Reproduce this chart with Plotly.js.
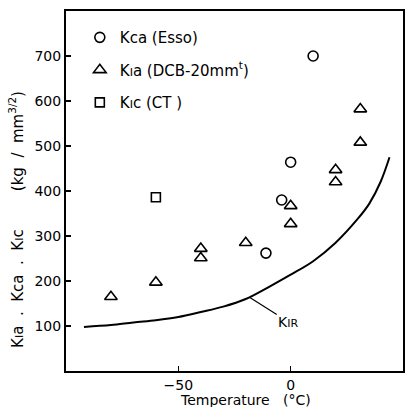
<!DOCTYPE html>
<html>
<head>
<meta charset="utf-8">
<script src="https://cdn.plot.ly/plotly-3.0.1.min.js"></script>
<style>html,body{margin:0;padding:0;background:#fff;}#chart{width:410px;height:408px;}</style>
</head>
<body>
<div id="chart"></div>
<script>
// Kca (Esso)
const essoT = [10, 0, -4, -11];
const essoK = [700, 464, 380, 262];
// KIa (DCB-20mm t)
const dcbT = [-80, -60, -40, -40, -20, 0, 0, 20, 20, 31, 31];
const dcbK = [165, 197, 272, 251, 285, 367, 327, 447, 420, 582, 508];
// KIc (CT)
const ctT = [-60];
const ctK = [386];
// KIR curve
const kirT = [-92, -80, -70, -60, -50, -40, -30, -20, -10, 0, 10, 20, 30, 35, 40, 44];
const kirK = [98, 102, 108, 113, 120, 131, 143, 160, 186, 214, 244, 285, 339, 372, 420, 475];

const xTicks = [-50, 0, 50];
const xTickText = ['\u221250', '0', '50'];
const yTicks = [100, 200, 300, 400, 500, 600, 700];

const FONT = 'DejaVu Sans';
const sm = (s, px) => "<span style='font-size:" + px + "px'>" + s + "</span>";

const traces = [
  {x: essoT, y: essoK, mode: 'markers', type: 'scatter', name: 'Kca (Esso)', legendgroup: 'a',
   marker: {symbol: 'circle-open', size: 10, color: '#000', line: {width: 1.6, color: '#000'}}},
  {x: dcbT, y: dcbK, mode: 'markers', type: 'scatter', name: 'K' + sm('I', 11) + 'a (DCB-20mm<sup>t</sup>)', legendgroup: 'b',
   marker: {symbol: 'triangle-up-open', size: 11, color: '#000', line: {width: 1.6, color: '#000'}}},
  {x: ctT, y: ctK, mode: 'markers', type: 'scatter', name: 'K' + sm('I', 11) + 'c (CT )', legendgroup: 'c',
   marker: {symbol: 'square-open', size: 9, color: '#000', line: {width: 1.6, color: '#000'}}},
  {x: kirT, y: kirK, mode: 'lines', type: 'scatter', name: 'KIR', showlegend: false,
   line: {color: '#000', width: 2, shape: 'spline', smoothing: 1}}
];

const layout = {
  width: 410, height: 408,
  margin: {l: 66, r: 7, t: 11, b: 37},
  paper_bgcolor: '#fff', plot_bgcolor: '#fff',
  font: {family: FONT, size: 13, color: '#000'},
  showlegend: true,
  legend: {x: 0.041, y: 0.972, xanchor: 'left', yanchor: 'top', bgcolor: 'rgba(0,0,0,0)',
           font: {family: FONT, size: 15, color: '#000'}, tracegroupgap: 10},
  xaxis: {range: [-100, 50], tickvals: xTicks, ticktext: xTickText,
          showline: true, mirror: true, linecolor: '#000', linewidth: 2,
          ticks: 'inside', ticklen: 5, tickcolor: '#000', tickwidth: 1.2,
          showgrid: false, zeroline: false,
          tickfont: {family: FONT, size: 14, color: '#000'}},
  yaxis: {range: [0, 800], tickvals: yTicks,
          showline: true, mirror: true, linecolor: '#000', linewidth: 2,
          ticks: 'inside', ticklen: 5, tickcolor: '#000', tickwidth: 1.2,
          showgrid: false, zeroline: false,
          tickfont: {family: FONT, size: 14, color: '#000'}},
  annotations: [
    {x: -18, y: 163, xref: 'x', yref: 'y', text: 'K' + sm('IR', 11), showarrow: true,
     arrowhead: 0, arrowwidth: 1.2, arrowcolor: '#000', ax: 38, ay: 24,
     font: {family: FONT, size: 14, color: '#000'}},
    {x: 0.534, y: -0.081, xref: 'paper', yref: 'paper', xanchor: 'center', yanchor: 'middle',
     showarrow: false, text: 'Temperature   (°C)', height: 14,
     font: {family: FONT, size: 14, color: '#000'}},
    {x: -0.148, y: 0.42, xref: 'paper', yref: 'paper', xanchor: 'center', yanchor: 'middle',
     textangle: -90, showarrow: false,
     text: 'K' + sm('I', 11) + 'a  .  Kca  .  K' + sm('I', 11) + 'c        (kg  /  mm<sup>3/2</sup>)',
     font: {family: FONT, size: 15, color: '#000'}}
  ]
};

Plotly.newPlot('chart', traces, layout, {displayModeBar: false, staticPlot: true});
</script>
</body>
</html>
